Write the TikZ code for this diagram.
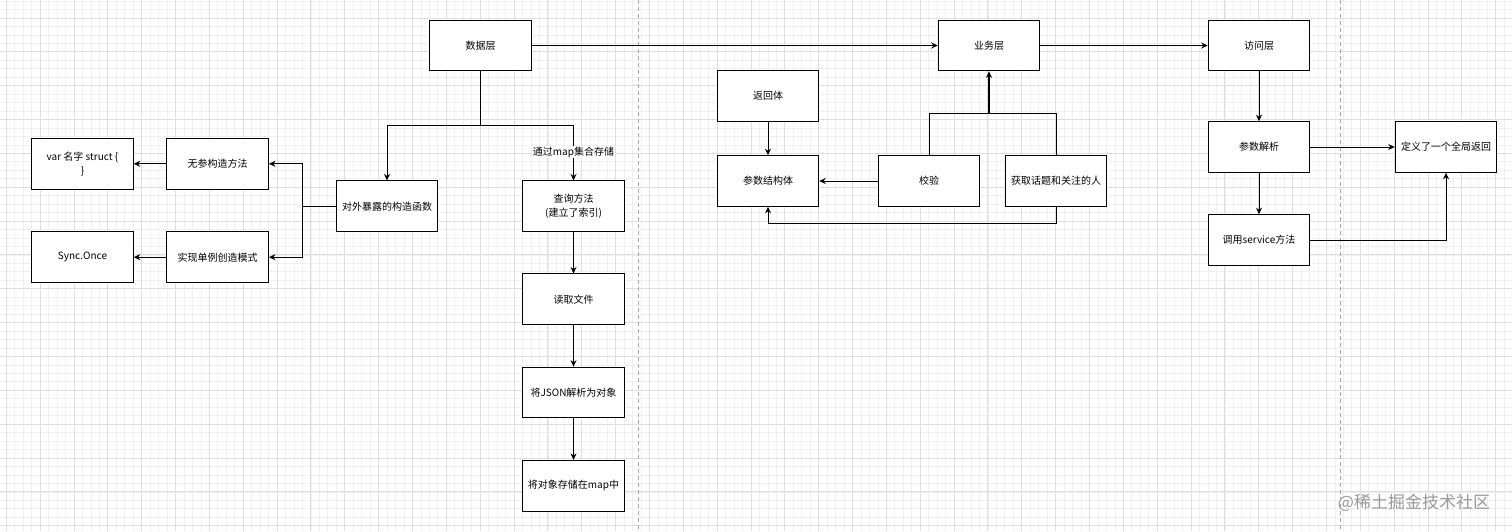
\documentclass[tikz,border=0pt]{standalone}
\usepackage{fontspec}
\setmainfont{Noto Sans CJK SC}
\usetikzlibrary{arrows.meta}
\tikzset{
  box/.style={draw=black, line width=0.9pt, fill=white, minimum width=101.6pt, minimum height=50.8pt, inner sep=1pt, align=center, font=\fontsize{10}{14}\selectfont},
  arr/.style={draw=black, line width=0.9pt, -{Stealth[length=6.5pt,width=6pt]}},
  con/.style={draw=black, line width=0.9pt},
  lbl/.style={fill=white, inner sep=1pt, font=\fontsize{10}{12}\selectfont},
  minorgrid/.style={draw=black!6, line width=0.5pt},
  majorgrid/.style={draw=black!13, line width=0.7pt},
  pagebreak/.style={draw=black!35, line width=0.8pt, dash pattern=on 4pt off 3pt}
}
\begin{document}
\begin{tikzpicture}[x=1pt,y=-1pt]
\fill[white] (0,0) rectangle (1512,531);
\useasboundingbox (0,0) rectangle (1512,531);
% grid
\foreach \i in {-1,...,179} {
  \pgfmathsetmacro{\gx}{6.15+8.4625*\i}
  \draw[minorgrid] (\gx,0) -- (\gx,531);
}
\foreach \i in {-3,...,63} {
  \pgfmathsetmacro{\gy}{17.85+8.4625*\i}
  \draw[minorgrid] (0,\gy) -- (1512,\gy);
}
\foreach \i in {0,...,45} {
  \pgfmathsetmacro{\gx}{6.15+33.85*\i}
  \draw[majorgrid] (\gx,0) -- (\gx,531);
}
\foreach \i in {0,...,16} {
  \pgfmathsetmacro{\gy}{17.85+33.85*\i}
  \draw[majorgrid] (0,\gy) -- (1512,\gy);
}
\draw[pagebreak] (638.3,0) -- (638.3,531);
\draw[pagebreak] (1340,0) -- (1340,531);

% nodes
\node[box] (d)  at (480.5,45.5) {数据层};
\node[box] (b)  at (989,45.5) {业务层};
\node[box] (a)  at (1259,45.5) {访问层};
\node[box] (fh) at (768,96) {返回体};
\node[box] (cs) at (768,181) {参数结构体};
\node[box] (jy) at (929,181) {校验};
\node[box] (hq) at (1056,181) {获取话题和关注的人};
\node[box] (wc) at (217.7,163.8) {无参构造方法};
\node[box] (var) at (82.5,163.8) {var 名字 struct \{\\\}};
\node[box] (sl) at (217.7,257.2) {实现单例创造模式};
\node[box] (so) at (82.5,257.2) {Sync.Once};
\node[box] (dw) at (387,206.2) {对外暴露的构造函数};
\node[box] (cx) at (573.5,206.3) {查询方法\\(建立了索引)};
\node[box] (dq) at (573.5,299.3) {读取文件};
\node[box] (js) at (573.5,392.5) {将JSON解析为对象};
\node[box] (cc) at (573.5,485.7) {将对象存储在map中};
\node[box] (jx) at (1259,147) {参数解析};
\node[box] (dy) at (1259,240) {调用service方法};
\node[box] (qj) at (1446,147) {定义了一个全局返回};

% connectors
\draw[arr] (d) -- (b);
\draw[arr] (b) -- (a);
\draw[arr] (d.south) -- ++(0,54.5) -| (dw.north);
\draw[arr] (d.south) -- ++(0,54.5) -| node[pos=0.74,lbl] {通过map集合存储} (cx.north);
\draw[arr] (dw.west) -- ++(-33.5,0) |- (wc.east);
\draw[arr] (dw.west) -- ++(-33.5,0) |- (sl.east);
\draw[arr] (wc) -- (var);
\draw[arr] (sl) -- (so);
\draw[arr] (cx) -- (dq);
\draw[arr] (dq) -- (js);
\draw[arr] (js) -- (cc);
\draw[arr] (fh) -- (cs);
\draw[arr] (jy) -- (cs);
\coordinate (bj) at (989,113);
\draw[con] (jy.north) |- (bj);
\draw[con] (hq.north) |- (bj);
\draw[arr, line width=1.6pt] (bj) -- (b.south);
\draw[arr] (hq.south) -- ++(0,17) -| (cs.south);
\draw[arr] (a) -- (jx);
\draw[arr] (jx) -- (dy);
\draw[arr] (jx) -- (qj);
\draw[arr] (dy.east) -| (qj.south);

% watermark
\node[text=black!40, font=\fontsize{17}{20}\selectfont, inner sep=0] (wm) at (1414,503) {@稀土掘金技术社区};
\end{tikzpicture}
\end{document}
